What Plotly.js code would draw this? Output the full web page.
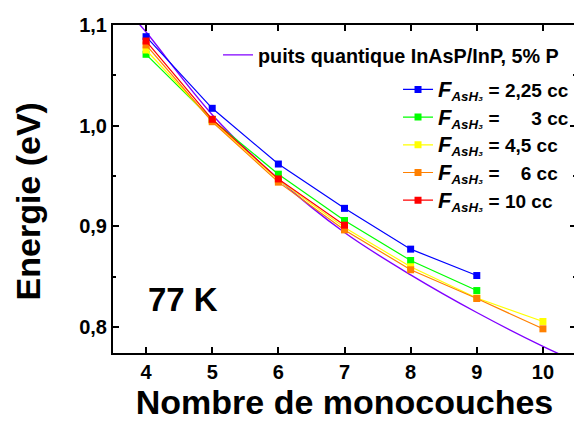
<!DOCTYPE html>
<html>
<head>
<meta charset="utf-8">
<script src="https://cdn.plot.ly/plotly-3.0.1.min.js"></script>
<style>
html,body{margin:0;padding:0;overflow:hidden;background:#fff;}
#chart{width:578px;height:422px;}
</style>
</head>
<body>
<div id="chart"></div>
<script>
// Data
const monolayers = [4, 5, 6, 7, 8, 9, 10];
const xTickVals = [4, 5, 6, 7, 8, 9, 10];
const yTickVals = [0.8, 0.9, 1.0, 1.1];
const yTickText = ['0,8', '0,9', '1,0', '1,1'];

// theoretical quantum well curve (purple)
const wellX = [3.8, 4, 5, 6, 7, 8, 9, 10, 10.5];
const wellY = [1.108, 1.093, 1.011, 0.947, 0.894, 0.852, 0.8146, 0.781, 0.766];

const blueY   = [1.0884, 1.0173, 0.962, 0.918, 0.8775, 0.8513];        // 2,25 cc (4..9)
const greenY  = [1.0709, 1.006, 0.9519, 0.9059, 0.8662, 0.8364];       // 3 cc (4..9)
const yellowY = [1.0752, 1.005, 0.946, 0.899, 0.860, 0.829, 0.8057];   // 4,5 cc (4..10)
const orangeY = [1.0802, 1.004, 0.944, 0.8966, 0.857, 0.8285, 0.7984]; // 6 cc (4..10)
const redY    = [1.0841, 1.0064, 0.9472, 0.9013];                      // 10 cc (4..7)

const wellLabel = 'puits quantique InAsP/InP, 5% P';
const F = "<span style='font-size:22px'><i>F</i></span><sub><i>AsH\u2083</i></sub>";
const nb = '\u00A0';
const seriesLabels = [
  F + ' = 2,25 cc',
  F + ' =' + nb.repeat(6) + '3 cc',
  F + ' = 4,5 cc',
  F + ' =' + nb.repeat(4) + '6 cc',
  F + ' = 10 cc'
];
const xTitle = 'Nombre de monocouches';
const yTitle = 'Energie (eV)';
const tempLabel = '77 K';

const fam = 'Liberation Sans, Arial, sans-serif';

function series(y, color, name) {
  return {
    x: monolayers.slice(0, y.length), y: y, name: name,
    type: 'scatter', mode: 'lines+markers', legend: 'legend2',
    line: {color: color, width: 1.2},
    marker: {symbol: 'square', size: 7, color: color}
  };
}

const traces = [
  {x: wellX, y: wellY, name: wellLabel, type: 'scatter', mode: 'lines',
   line: {color: '#8000FF', width: 1.4, shape: 'spline'}, legend: 'legend'},
  series(blueY, '#0000FF', seriesLabels[0]),
  series(greenY, '#00FF00', seriesLabels[1]),
  series(yellowY, '#FFFF00', seriesLabels[2]),
  series(orangeY, '#FF8000', seriesLabels[3]),
  series(redY, '#FF0000', seriesLabels[4])
];

const axisCommon = {
  showgrid: false, zeroline: false, showline: true, linecolor: '#000', linewidth: 2,
  mirror: 'ticks', ticks: 'inside', ticklen: 6, tickwidth: 2, tickcolor: '#000',
  tickfont: {family: fam, size: 20, color: '#000', weight: 'bold'}
};

const layout = {
  width: 578, height: 422,
  margin: {l: 113, r: 2, t: 25, b: 69},
  paper_bgcolor: '#fff', plot_bgcolor: '#fff',
  font: {family: fam, color: '#000'},
  xaxis: Object.assign({}, axisCommon, {
    range: [3.5, 10.5], tickmode: 'array', tickvals: xTickVals,
    title: {text: xTitle, font: {family: fam, size: 34, weight: 'bold', color: '#000'}, standoff: 2}
  }),
  yaxis: Object.assign({}, axisCommon, {
    range: [0.7744, 1.1], tickmode: 'array', tickvals: yTickVals, ticktext: yTickText,
    minor: {tickmode: 'array', tickvals: [0.85, 0.95, 1.05], ticks: 'inside', ticklen: 3, tickwidth: 2, tickcolor: '#000'}
  }),
  showlegend: true,
  legend: {x: 0.2268, y: 0.9085, xanchor: 'left', yanchor: 'middle', bgcolor: 'rgba(0,0,0,0)', borderwidth: 0,
           font: {family: fam, size: 19.8, weight: 'bold', color: '#000'}},
  legend2: {x: 0.6156, y: 0.634, xanchor: 'left', yanchor: 'middle', bgcolor: 'rgba(0,0,0,0)', borderwidth: 0,
            font: {family: fam, size: 19, weight: 'bold', color: '#000'}},
  annotations: [
    {xref: 'x', yref: 'y', x: 4, y: 0.828, xanchor: 'left', yanchor: 'middle', showarrow: false,
     text: tempLabel, font: {family: fam, size: 33, weight: 'bold', color: '#000'}},
    {xref: 'paper', yref: 'paper', x: -0.1836, y: 0.462, xanchor: 'center', yanchor: 'middle', showarrow: false,
     textangle: -90, text: yTitle, font: {family: fam, size: 34, weight: 'bold', color: '#000'}}
  ]
};

Plotly.newPlot('chart', traces, layout, {displayModeBar: false, staticPlot: true});
</script>
</body>
</html>
